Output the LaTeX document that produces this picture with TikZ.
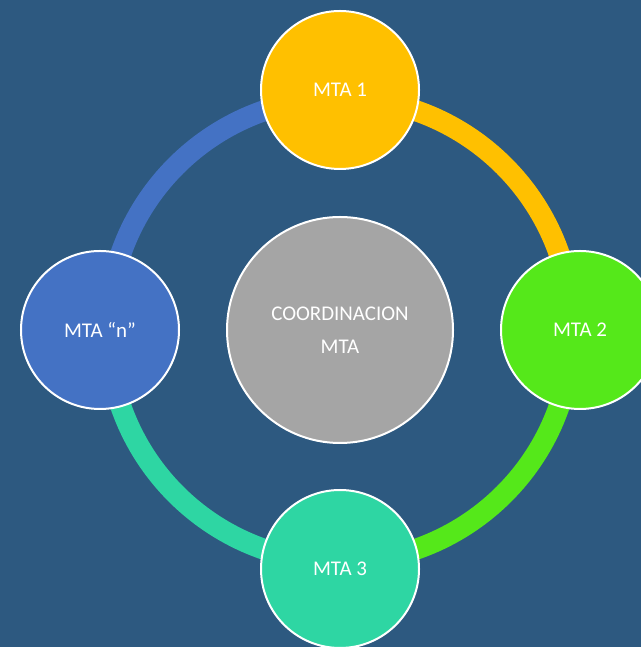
\documentclass[tikz,border=0pt]{standalone}
\usepackage{fontspec}
\setmainfont{Carlito}
\usetikzlibrary{backgrounds}
\definecolor{bgblue}{HTML}{2D5980}
\definecolor{mgold}{HTML}{FFC000}
\definecolor{mgreen}{HTML}{55E81A}
\definecolor{mteal}{HTML}{2ED6A3}
\definecolor{mblue}{HTML}{4472C4}
\definecolor{mgray}{HTML}{A5A5A5}
\begin{document}
\begin{tikzpicture}[x=1bp,y=1bp,
    mta/.style={circle,draw=white,line width=2bp,minimum size=158bp,
      text=white,font=\fontsize{21}{25}\selectfont},
    ring/.style={line width=21bp}]
    \useasboundingbox (0,0) rectangle (641,647);
    \node[mta,fill=mgold] (m1) at (340,557) {MTA 1};
    \node[mta,fill=mgreen] (m2) at (580,317) {MTA 2};
    \node[mta,fill=mteal] (m3) at (340,78) {MTA 3};
    \node[mta,fill=mblue] (mn) at (100,317) {MTA “n”};
    \node[mta,fill=mgray,minimum size=226bp,align=center,
      font=\fontsize{21}{33}\selectfont] (coord) at (340,317) {COORDINACION\\MTA};
    \begin{scope}[on background layer]
      \fill[bgblue] (0,0) rectangle (641,647);
      \draw[ring,mgold] (coord.center) ++(90:232) arc[start angle=90,end angle=0,radius=232];
      \draw[ring,mgreen] (coord.center) ++(0:232) arc[start angle=0,end angle=-90,radius=232];
      \draw[ring,mteal] (coord.center) ++(-90:232) arc[start angle=-90,end angle=-180,radius=232];
      \draw[ring,mblue] (coord.center) ++(180:232) arc[start angle=180,end angle=90,radius=232];
    \end{scope}
  \end{tikzpicture}
\end{document}
